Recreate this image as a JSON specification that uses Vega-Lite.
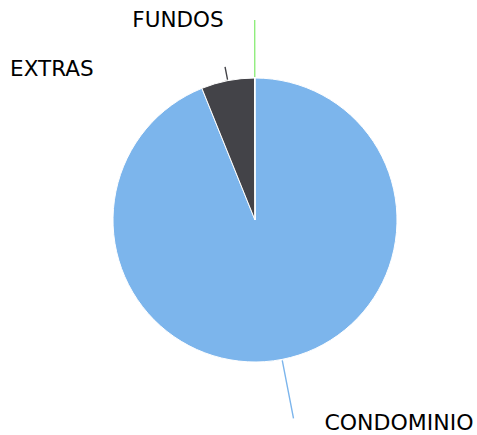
{
  "$schema": "https://vega.github.io/schema/vega-lite/v6.json",
  "width": 444,
  "height": 430,
  "padding": {"left": 33, "top": 5, "right": 0, "bottom": 0},
  "autosize": {"type": "none"},
  "background": "white",
  "view": {"stroke": null},
  "data": {
    "values": [
      {"category": "CONDOMINIO", "value": 93.9},
      {"category": "EXTRAS", "value": 6.05},
      {"category": "FUNDOS", "value": 0.05}
    ]
  },
  "encoding": {
    "theta": {"field": "value", "type": "quantitative", "stack": true},
    "order": {"field": "category", "type": "ordinal", "sort": "ascending"},
    "color": {
      "field": "category",
      "type": "nominal",
      "scale": {"domain": ["CONDOMINIO", "EXTRAS", "FUNDOS"], "range": ["#7cb5ec", "#434348", "#90ed7d"]},
      "legend": null
    }
  },
  "resolve": {"scale": {"theta": "independent"}},
  "layer": [
    {
      "mark": {"type": "arc", "outerRadius": 142, "stroke": "white", "strokeWidth": 1}
    },
    {
      "mark": {"type": "arc", "radius": 200, "radius2": 143, "padAngle": 3, "strokeWidth": 1.4, "fillOpacity": 0},
      "encoding": {
        "strokeOpacity": {"condition": {"test": "datum.category === 'FUNDOS'", "value": 1}, "value": 0},
        "stroke": {"field": "category", "type": "nominal", "scale": {"domain": ["CONDOMINIO", "EXTRAS", "FUNDOS"], "range": ["#7cb5ec", "#434348", "#90ed7d"]}, "legend": null}
      }
    },
    {
      "mark": {"type": "arc", "radius": 156, "radius2": 143, "padAngle": 3, "strokeWidth": 1.4, "fillOpacity": 0},
      "encoding": {
        "strokeOpacity": {"condition": {"test": "datum.category === 'EXTRAS'", "value": 1}, "value": 0},
        "stroke": {"field": "category", "type": "nominal", "scale": {"domain": ["CONDOMINIO", "EXTRAS", "FUNDOS"], "range": ["#7cb5ec", "#434348", "#90ed7d"]}, "legend": null}
      }
    },
    {
      "mark": {"type": "arc", "radius": 202, "radius2": 143, "padAngle": 3, "strokeWidth": 1.4, "fillOpacity": 0},
      "encoding": {
        "theta": {"field": "value", "type": "quantitative", "stack": true, "scale": {"range": [1.4748, 4.6164]}},
        "strokeOpacity": {"condition": {"test": "datum.category === 'CONDOMINIO'", "value": 1}, "value": 0},
        "stroke": {"field": "category", "type": "nominal", "scale": {"domain": ["CONDOMINIO", "EXTRAS", "FUNDOS"], "range": ["#7cb5ec", "#434348", "#90ed7d"]}, "legend": null}
      }
    },
    {
      "mark": {"type": "text", "radius": 199, "align": "right", "baseline": "middle", "dx": -31, "font": "DejaVu Sans", "fontSize": 21.5},
      "encoding": {
        "text": {"condition": {"test": "datum.category === 'FUNDOS'", "field": "category"}, "value": ""},
        "color": {"value": "#000000"}
      }
    },
    {
      "mark": {"type": "text", "radius": 153, "align": "right", "baseline": "middle", "dx": -132, "font": "DejaVu Sans", "fontSize": 21.5},
      "encoding": {
        "text": {"condition": {"test": "datum.category === 'EXTRAS'", "field": "category"}, "value": ""},
        "color": {"value": "#000000"}
      }
    },
    {
      "mark": {"type": "text", "radius": 207, "align": "left", "baseline": "middle", "dx": 30, "font": "DejaVu Sans", "fontSize": 22},
      "encoding": {
        "text": {"condition": {"test": "datum.category === 'CONDOMINIO'", "field": "category"}, "value": ""},
        "color": {"value": "#000000"}
      }
    }
  ]
}
